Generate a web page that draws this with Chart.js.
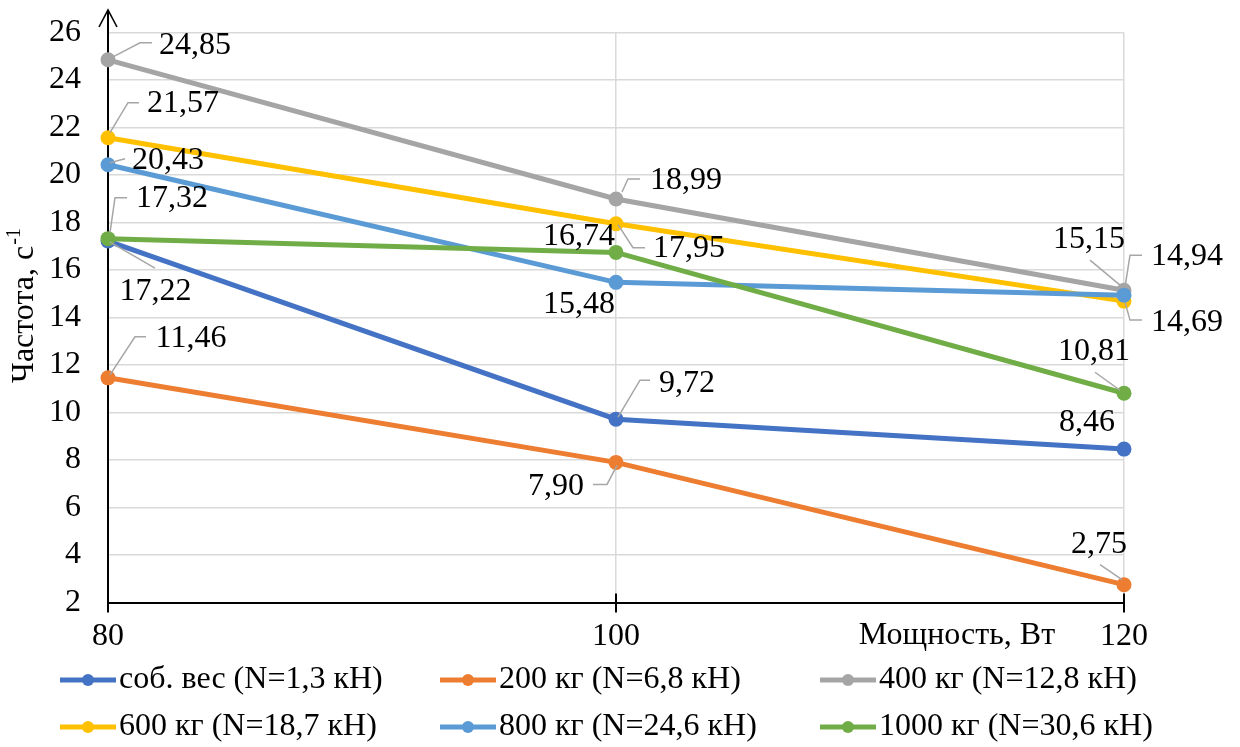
<!DOCTYPE html>
<html><head><meta charset="utf-8">
<script src="https://cdn.jsdelivr.net/npm/chart.js@4.4.1/dist/chart.umd.min.js"></script>
<style>html,body{margin:0;padding:0;background:#fff;}#wrap{width:1240px;height:747px;position:relative;}</style>
</head><body><div id="wrap"><canvas id="c"></canvas></div>
<script>
// ---- data ----
const powers = [80, 100, 120];
const seriesNames = ['соб. вес (N=1,3 кН)', '200 кг (N=6,8 кН)', '400 кг (N=12,8 кН)', '600 кг (N=18,7 кН)', '800 кг (N=24,6 кН)', '1000 кг (N=30,6 кН)'];
const ownWeight = [17.22, 9.72, 8.46];
const load200 = [11.46, 7.90, 2.75];
const load400 = [24.85, 18.99, 15.15];
const load600 = [21.57, 17.95, 14.69];
const load800 = [20.43, 15.48, 14.94];
const load1000 = [17.32, 16.74, 10.81];
const yTickValues = [2, 4, 6, 8, 10, 12, 14, 16, 18, 20, 22, 24, 26];
const xTickValues = [80, 100, 120];
const xAxisTitle = 'Мощность, Вт';
const yAxisTitle = 'Частота, с';
const yAxisTitleSup = '-1';

// ---- styling ----
const FONT = '"Liberation Serif", "Times New Roman", serif';
const FS = 32;
const colors = ['#4472C4', '#ED7D31', '#A5A5A5', '#FFC000', '#5B9BD5', '#70AD47'];
const allSeries = [ownWeight, load200, load400, load600, load800, load1000];
// label placement relative to the point (text centre offset, leader line path offsets)
const labelLayout = [
  [{dx:47.5,dy:51,lead:[[2,1],[47,27]]}, {dx:71,dy:-36,lead:[[2,-2],[24,-39],[34,-39]]}, {dx:-37,dy:-26,lead:null}],
  [{dx:83,dy:-39,lead:[[2,-3],[27,-41],[38,-41]]}, {dx:-60,dy:24,lead:[[1,3],[-9,22],[-23,22]]}, {dx:-25,dy:-40,lead:[[-2,-5],[-24,-20]]}],
  [{dx:87,dy:-14,lead:[[5,-3],[32,-17],[44,-17]]}, {dx:70,dy:-18,lead:[[6,-7],[12,-20],[24,-20]]}, {dx:-35,dy:-51,lead:[[-4,-5],[-34,-30]]}],
  [{dx:75,dy:-34,lead:[[2,-5],[20,-35],[31,-35]]}, {dx:73,dy:25,lead:[[2,1],[17,24],[29,24]]}, {dx:63,dy:21,lead:[[1,1],[6,19],[18,19]]}],
  [{dx:60,dy:-4,lead:[[2,-2],[17,-6]]}, {dx:-37,dy:22,lead:null}, {dx:63,dy:-39,lead:[[1,-8],[6,-40],[18,-40]]}],
  [{dx:64,dy:-40,lead:[[2,-6],[7,-41],[19,-41]]}, {dx:-37,dy:-16,lead:null}, {dx:-30,dy:-42,lead:[[-4,-3],[-29,-21]]}]
];

const fmt = v => v.toFixed(2).replace('.', ',');

const datasets = allSeries.map((vals, i) => ({
  label: seriesNames[i],
  data: powers.map((p, j) => ({x: p, y: vals[j]})),
  borderColor: colors[i],
  backgroundColor: colors[i],
  pointBackgroundColor: colors[i],
  pointBorderColor: colors[i],
  borderWidth: 5,
  pointRadius: 7.5,
  pointBorderWidth: 0,
  tension: 0,
  clip: false,
  order: 10 - i
}));

const decor = {
  id: 'decor',
  beforeDatasetsDraw(chart) {
    const {ctx, chartArea: a, scales} = chart;
    ctx.save();
    ctx.strokeStyle = '#000';
    ctx.lineWidth = 2;
    ctx.beginPath();
    ctx.moveTo(a.left, a.bottom);
    ctx.lineTo(a.left, 10);
    ctx.stroke();
    ctx.lineWidth = 1.6;
    ctx.beginPath();
    ctx.moveTo(a.left - 9, 27);
    ctx.lineTo(a.left, 10);
    ctx.lineTo(a.left + 9, 27);
    ctx.stroke();
    ctx.lineWidth = 2;
    xTickValues.forEach(v => {
      const x = scales.x.getPixelForValue(v);
      ctx.beginPath();
      ctx.moveTo(x, a.bottom - 9);
      ctx.lineTo(x, a.bottom + 10);
      ctx.stroke();
    });
    ctx.restore();
  },
  afterDatasetsDraw(chart) {
    const {ctx} = chart;
    ctx.save();
    ctx.font = FS + 'px ' + FONT;
    ctx.textAlign = 'center';
    ctx.textBaseline = 'middle';
    allSeries.forEach((vals, i) => {
      const meta = chart.getDatasetMeta(i);
      meta.data.forEach((pt, j) => {
        const L = labelLayout[i][j];
        if (L.lead) {
          ctx.strokeStyle = '#A6A6A6';
          ctx.lineWidth = 1.5;
          ctx.beginPath();
          L.lead.forEach((o, k) => {
            if (k === 0) ctx.moveTo(pt.x + o[0], pt.y + o[1]);
            else ctx.lineTo(pt.x + o[0], pt.y + o[1]);
          });
          ctx.stroke();
        }
        ctx.fillStyle = '#000';
        ctx.fillText(fmt(vals[j]), pt.x + L.dx, pt.y + L.dy);
      });
    });
    ctx.restore();
  },
  afterDraw(chart) {
    const {ctx} = chart;
    ctx.save();
    ctx.fillStyle = '#000';
    ctx.font = FS + 'px ' + FONT;
    ctx.textAlign = 'center';
    ctx.textBaseline = 'middle';
    ctx.fillText(xAxisTitle, 957, 636);
    ctx.translate(25, 306);
    ctx.rotate(-Math.PI / 2);
    ctx.font = FS + 'px ' + FONT;
    const w1 = ctx.measureText(yAxisTitle).width;
    ctx.font = '20px ' + FONT;
    const w2 = ctx.measureText(yAxisTitleSup).width;
    const x0 = -(w1 + w2) / 2;
    ctx.textAlign = 'left';
    ctx.font = FS + 'px ' + FONT;
    ctx.fillText(yAxisTitle, x0, 0);
    ctx.font = '20px ' + FONT;
    ctx.fillText(yAxisTitleSup, x0 + w1 + 1, -10);
    ctx.setTransform(1, 0, 0, 1, 0, 0);
    ctx.font = FS + 'px ' + FONT;
    ctx.textBaseline = 'middle';
    seriesNames.forEach((name, i) => {
      const col = i % 3, row = Math.floor(i / 3);
      const mx = 60 + col * 380, my = 680 + row * 47;
      ctx.strokeStyle = colors[i];
      ctx.lineWidth = 5;
      ctx.beginPath();
      ctx.moveTo(mx, my);
      ctx.lineTo(mx + 56, my);
      ctx.stroke();
      ctx.fillStyle = colors[i];
      ctx.beginPath();
      ctx.arc(mx + 28, my, 6, 0, Math.PI * 2);
      ctx.fill();
      ctx.fillStyle = '#000';
      ctx.textAlign = 'left';
      ctx.fillText(name, mx + 59, my);
    });
    ctx.restore();
  }
};

Chart.defaults.font.family = FONT;
new Chart(document.getElementById('c'), {
  type: 'line',
  data: {datasets},
  options: {
    responsive: true,
    maintainAspectRatio: false,
    animation: false,
    layout: {padding: {top: 32.5, right: 116, bottom: 100, left: 0}},
    plugins: {legend: {display: false}, tooltip: {enabled: false}},
    scales: {
      x: {
        type: 'linear', min: 80, max: 120,
        afterBuildTicks: s => { s.ticks = xTickValues.map(v => ({value: v})); },
        afterFit: s => { s.height = 44.5; s.paddingLeft = 0; s.paddingRight = 0; },
        ticks: {font: {size: FS, family: FONT}, color: '#000', padding: 15, maxRotation: 0},
        grid: {color: '#D9D9D9', lineWidth: 1.5, drawTicks: false},
        border: {color: '#000', width: 2}
      },
      y: {
        type: 'linear', min: 2, max: 26,
        afterBuildTicks: s => { s.ticks = yTickValues.map(v => ({value: v})); },
        afterFit: s => { s.width = 108; s.paddingTop = 0; s.paddingBottom = 0; },
        ticks: {font: {size: FS, family: FONT}, color: '#000', padding: 27},
        grid: {color: '#D9D9D9', lineWidth: 1.5, drawTicks: false},
        border: {display: false}
      }
    }
  },
  plugins: [decor]
});
</script>
</body></html>
